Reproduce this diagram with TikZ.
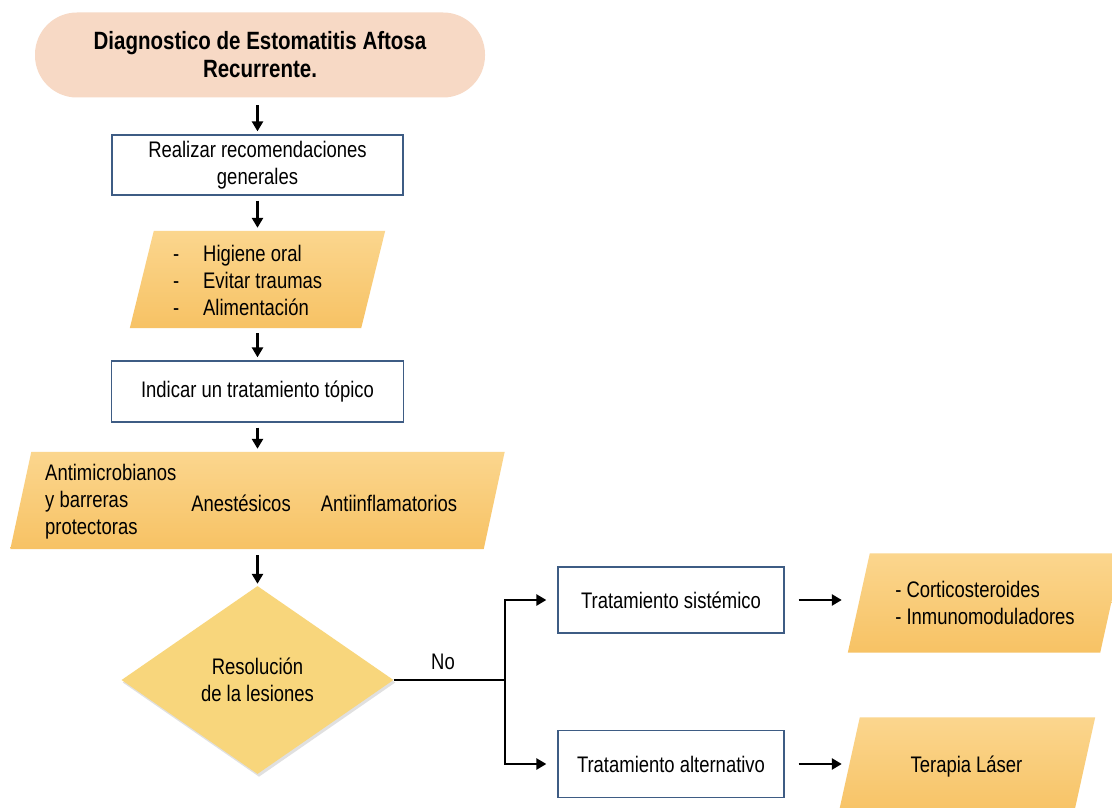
\documentclass[tikz,border=0pt]{standalone}
\usepackage{fontspec}
\setmainfont{Liberation Sans}[FakeStretch=0.82]
\usetikzlibrary{arrows.meta,shapes.geometric,backgrounds,calc}
\definecolor{peach}{RGB}{247,217,197}
\definecolor{paratop}{RGB}{251,214,142}
\definecolor{parabot}{RGB}{247,194,100}
\definecolor{diafill}{RGB}{248,214,124}
\definecolor{boxline}{RGB}{62,92,132}
\begin{document}
\begin{tikzpicture}[x=1pt,y=-1pt,
  txt/.style={font=\fontsize{22.5}{27}\selectfont, align=center, inner sep=0pt},
  ell/.style={rectangle, rounded corners=42pt, fill=peach, minimum width=450pt, minimum height=85pt,
     font=\fontsize{25}{28}\selectfont\bfseries, align=center, inner sep=0pt},
  box/.style={txt, draw=boxline, line width=1.3pt, fill=white},
  shp/.style={txt, rectangle},
  dia/.style={txt, diamond, fill=diafill, minimum width=272pt, minimum height=188pt, aspect=1.45},
  arr/.style={-{Triangle[length=10pt,width=11pt]}, line width=2.8pt, shorten <=5pt, shorten >=3pt},
  ln/.style={line width=2.8pt}
]
\useasboundingbox (0,0) rectangle (1112,808);

% nodes
\node[ell] (e0) at (260,55) {Diagnostico de Estomatitis Aftosa\\Recurrente.};
\node[box, minimum width=291pt, minimum height=60pt] (b1) at (257.5,165) {Realizar recomendaciones\\generales};
\node[shp, minimum width=231pt, minimum height=97pt] (p1) at (257.5,279.5) {};
\node[txt, anchor=west, align=left] (p1t) at (173,280.5)
  {\makebox[30pt][l]{-}Higiene oral\\\makebox[30pt][l]{-}Evitar traumas\\\makebox[30pt][l]{-}Alimentación};
\node[box, minimum width=292pt, minimum height=61pt] (b2) at (257.5,391.5) {Indicar un tratamiento tópico};
\node[shp, minimum width=473pt, minimum height=97pt] (p2) at (257.5,500.5) {};
\node[txt, anchor=west, align=left] (p2a) at (45,502) {Antimicrobianos\\y barreras\\protectoras};
\node[txt] (p2b) at (241,503) {Anestésicos};
\node[txt] (p2c) at (389,503) {Antiinflamatorios};
\node[dia] (d) at (257.5,680) {Resolución\\de la lesiones};
\coordinate (jn) at (505,680);
\node[txt] (no) at (443,662) {No};
\node[box, minimum width=226pt, minimum height=66pt] (s1) at (671,600) {Tratamiento sistémico};
\node[box, minimum width=226pt, minimum height=67pt] (s2) at (671,764) {Tratamiento alternativo};
\node[shp, minimum width=252pt, minimum height=99pt, align=left] (r1) at (985,603) {- Corticosteroides\\- Inmunomoduladores};
\node[shp, minimum width=235pt, minimum height=99pt] (r2) at (966.5,767) {Terapia Láser};

% background shapes
\begin{pgfonlayer}{background}
\fill[white] (0,0) rectangle (1112,808);
\shade[top color=paratop,bottom color=parabot]
  ([xshift=12pt]p1.north west) -- ([xshift=12pt]p1.north east) --
  ([xshift=-12pt]p1.south east) -- ([xshift=-12pt]p1.south west) -- cycle;
\shade[top color=paratop,bottom color=parabot]
  ([xshift=10.5pt]p2.north west) -- ([xshift=10.5pt]p2.north east) --
  ([xshift=-10.5pt]p2.south east) -- ([xshift=-10.5pt]p2.south west) -- cycle;
\shade[top color=paratop,bottom color=parabot]
  ([xshift=11pt]r1.north west) -- ([xshift=11pt]r1.north east) --
  ([xshift=-11pt]r1.south east) -- ([xshift=-11pt]r1.south west) -- cycle;
\shade[top color=paratop,bottom color=parabot]
  ([xshift=11pt]r2.north west) -- ([xshift=11pt]r2.north east) --
  ([xshift=-11pt]r2.south east) -- ([xshift=-11pt]r2.south west) -- cycle;
\fill[black!40, opacity=0.3]
  ($(d.north)+(1.5,2.5)$) -- ($(d.east)+(1.5,2.5)$) -- ($(d.south)+(1.5,2.5)$) -- ($(d.west)+(1.5,2.5)$) -- cycle;
\end{pgfonlayer}

% connectors
\draw[arr, shorten <=7.5pt] (b1.north |- e0.south) -- (b1.north);
\draw[arr] (b1.south) -- (p1.north);
\draw[arr] (p1.south) -- (b2.north);
\draw[arr] (b2.south) -- (p2.north);
\draw[arr, shorten <=6pt, shorten >=2pt] (p2.south) -- (d.north);
\draw[ln] (d.east) -- (jn);
\draw[arr, shorten <=0pt, shorten >=11pt] (jn) |- (s1.west);
\draw[arr, shorten <=0pt, shorten >=11pt] (jn) |- (s2.west);
\draw[arr, shorten <=14pt, shorten >=17pt] (s1.east) -- (s1.east -| r1.west);
\draw[arr, shorten <=14pt, shorten >=7pt] (s2.east) -- (s2.east -| r2.west);
\end{tikzpicture}
\end{document}
